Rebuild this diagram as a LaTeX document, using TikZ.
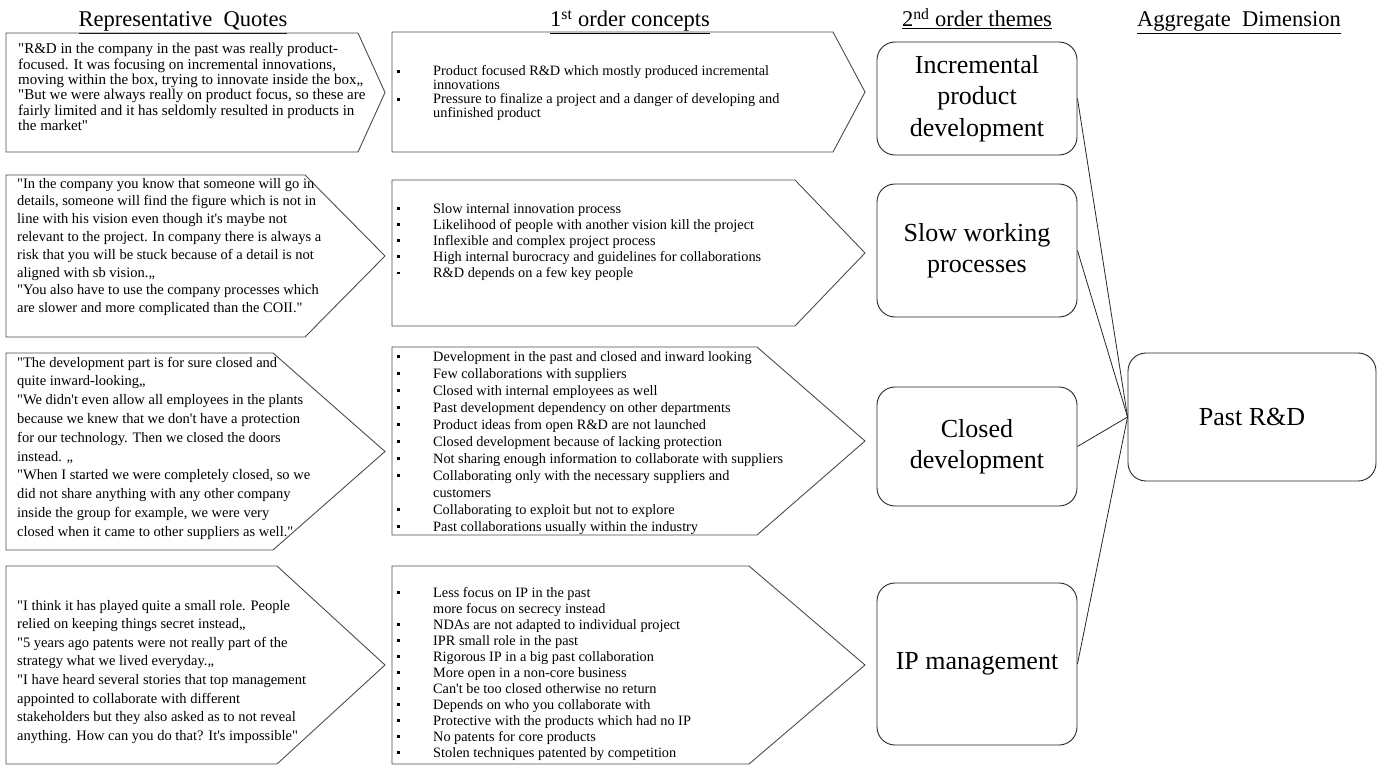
\documentclass[tikz,border=0pt]{standalone}
\usepackage{fontspec}
\setmainfont{Liberation Serif}
% text block: width, font size, line spacing, body
\newcommand{\txtblock}[4]{\parbox[t]{#1}{\fontsize{#2}{#3}\selectfont\raggedright #4}}
% straight quotation marks
\newcommand{\qq}{\textquotedbl}
\newcommand{\ap}{\textquotesingle}
% bullet item and its continuation line
\newcommand{\bulletmark}{\rule[3.4pt]{2.8pt}{2.8pt}}
\newcommand{\itm}[1]{\makebox[36pt][l]{\bulletmark}#1}
\newcommand{\cnt}[1]{\hspace*{36pt}#1}
\begin{document}
\begin{tikzpicture}[x=1pt,y=-1pt,
  penta/.style={draw=black!70, line width=0.9pt},
  theme/.style={draw=black!85, line width=0.9pt, rounded corners=18pt,
    align=center, inner sep=0pt, font=\fontsize{26}{31.5}\selectfont},
  txt/.style={anchor=base west, inner sep=0pt},
  head/.style={anchor=base, inner sep=0pt, font=\fontsize{22.5}{27}\selectfont},
  link/.style={draw=black!85, line width=0.8pt}]
\useasboundingbox (0,0) rectangle (1387,765);

% column headings
\node[head] (h1) at (183,27) {\underline{Representative\ \ Quotes}};
\node[head] (h2) at (630,27) {\underline{1\textsuperscript{st} order concepts}};
\node[head] (h3) at (977,27) {\underline{2\textsuperscript{nd} order themes}};
\node[head] (h4) at (1239,27) {\underline{Aggregate\ \ Dimension}};

% quote arrows
\draw[penta] (6,33) -- (358,33) -- (385,92.5) -- (358,152) -- (6,152) -- cycle;
\draw[penta] (6,175) -- (305,175) -- (385,256) -- (305,337) -- (6,337) -- cycle;
\draw[penta] (6,353) -- (273,353) -- (385,451.5) -- (273,550) -- (6,550) -- cycle;
\draw[penta] (6,566) -- (277,566) -- (385,665) -- (277,764) -- (6,764) -- cycle;

% concept arrows
\draw[penta] (392,32) -- (833,32) -- (865,92) -- (833,152) -- (392,152) -- cycle;
\draw[penta] (392,180) -- (795,180) -- (865,253) -- (795,326) -- (392,326) -- cycle;
\draw[penta] (392,347) -- (757,347) -- (865,441) -- (757,535) -- (392,535) -- cycle;
\draw[penta] (392,566) -- (749,566) -- (865,665) -- (749,764) -- (392,764) -- cycle;

% quotes
\node[txt] (q1) at (18,54) {\txtblock{370pt}{15}{15.3}{%
 \qq R\&D in the company in the past was really product-\\
focused. It was focusing on incremental innovations,\\
moving within the box, trying to innovate inside the box„\\
\qq But we were always really on product focus, so these are\\
fairly limited and it has seldomly resulted in products in\\
the market\qq}};

\node[txt] (q2) at (17,188) {\txtblock{370pt}{14.5}{17.8}{%
\qq In the company you know that someone will go in\\
details, someone will find the figure which is not in\\
line with his vision even though it\ap s maybe not\\
relevant to the project. In company there is always a\\
risk that you will be stuck because of a detail is not\\
aligned with sb vision.„\\
\qq You also have to use the company processes which\\
are slower and more complicated than the COII.\qq}};

\node[txt] (q3) at (17,367) {\txtblock{370pt}{14.5}{18.8}{%
\qq The development part is for sure closed and\\
quite inward-looking„\\
\qq We didn\ap t even allow all employees in the plants\\
because we knew that we don\ap t have a protection\\
for our technology. Then we closed the doors\\
instead. „\\
\qq When I started we were completely closed, so we\\
did not share anything with any other company\\
inside the group for example, we were very\\
closed when it came to other suppliers as well.\qq}};

\node[txt] (q4) at (17,610) {\txtblock{370pt}{14.5}{18.6}{%
\qq I think it has played quite a small role. People\\
relied on keeping things secret instead„\\
\qq 5 years ago patents were not really part of the\\
strategy what we lived everyday.„\\
\qq I have heard several stories that top management\\
appointed to collaborate with different\\
stakeholders but they also asked as to not reveal\\
anything. How can you do that? It\ap s impossible\qq}};

% first order concepts
\node[txt] (c1) at (397,76) {\txtblock{460pt}{14.3}{14}{%
\itm{Product focused R\&D which mostly produced incremental}\\
\cnt{innovations}\\
\itm{Pressure to finalize a project and a danger of developing and}\\
\cnt{unfinished product}}};

\node[txt] (c2) at (397,213) {\txtblock{460pt}{14.3}{16.2}{%
\itm{Slow internal innovation process}\\
\itm{Likelihood of people with another vision kill the project}\\
\itm{Inflexible and complex project process}\\
\itm{High internal burocracy and guidelines for collaborations}\\
\itm{R\&D depends on a few key people}}};

\node[txt] (c3) at (397,361) {\txtblock{460pt}{14.3}{17}{%
\itm{Development in the past and closed and inward looking}\\
\itm{Few collaborations with suppliers}\\
\itm{Closed with internal employees as well}\\
\itm{Past development dependency on other departments}\\
\itm{Product ideas from open R\&D are not launched}\\
\itm{Closed development because of lacking protection}\\
\itm{Not sharing enough information to collaborate with suppliers}\\
\itm{Collaborating only with the necessary suppliers and}\\
\cnt{customers}\\
\itm{Collaborating to exploit but not to explore}\\
\itm{Past collaborations usually within the industry}}};

\node[txt] (c4) at (397,597) {\txtblock{460pt}{14.3}{16}{%
\itm{Less focus on IP in the past}\\
\cnt{more focus on secrecy instead}\\
\itm{NDAs are not adapted to individual project}\\
\itm{IPR small role in the past}\\
\itm{Rigorous IP in a big past collaboration}\\
\itm{More open in a non-core business}\\
\itm{Can\ap t be too closed otherwise no return}\\
\itm{Depends on who you collaborate with}\\
\itm{Protective with the products which had no IP}\\
\itm{No patents for core products}\\
\itm{Stolen techniques patented by competition}}};

% second order themes
\node[theme, minimum width=200pt, minimum height=113pt] (t1) at (977,98.5)
  {Incremental\\product\\development};
\node[theme, minimum width=200pt, minimum height=133pt] (t2) at (977,250.5)
  {Slow working\\processes};
\node[theme, minimum width=200pt, minimum height=119pt] (t3) at (977,446.5)
  {Closed\\development};
\node[theme, minimum width=200pt, minimum height=162pt] (t4) at (977,664)
  {IP management};

% aggregate dimension
\node[theme, minimum width=248pt, minimum height=128pt] (agg) at (1252,417)
  {Past R\&D};

% links
\draw[link] (t1.east) -- (agg.west);
\draw[link] (t2.east) -- (agg.west);
\draw[link] (t3.east) -- (agg.west);
\draw[link] (t4.east) -- (agg.west);
\end{tikzpicture}
\end{document}
